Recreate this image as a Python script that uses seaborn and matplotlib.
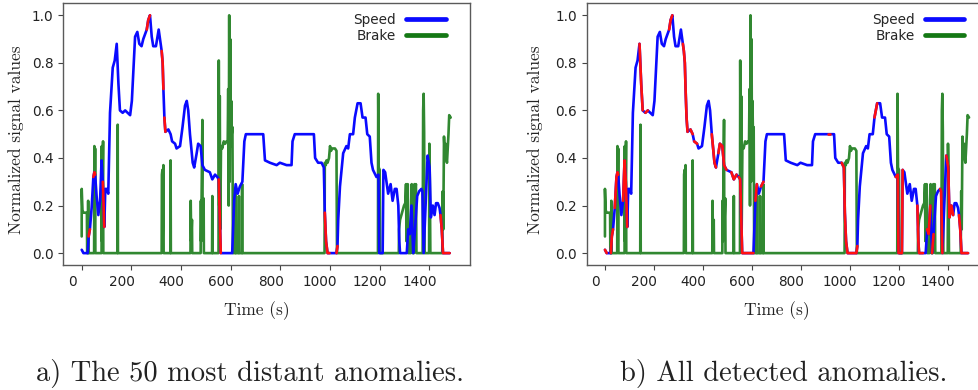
import numpy as np
import pandas as pd
import matplotlib
matplotlib.use("Agg")
import matplotlib.pyplot as plt
import matplotlib.transforms as mtransforms
from matplotlib.lines import Line2D
import seaborn as sns

# ---------------- data ----------------
speed_t = [0, 7, 20, 24, 28, 33, 40, 47, 51, 54, 60, 67, 74, 80, 85, 91, 95, 100, 107,
           114, 125, 133, 141, 148, 154, 165, 175, 185, 195, 202, 215, 224, 232, 241,
           248, 262, 268, 275, 282, 288, 299, 310, 318, 322, 326, 329, 333, 337, 349,
           358, 364, 376, 382, 396, 406, 416, 423, 429, 436, 447, 453, 463, 469, 479,
           486, 496, 516, 526, 537, 546, 552, 560, 606, 614, 620, 628, 637, 647, 655,
           661, 671, 731, 738, 758, 785, 798, 825, 845, 849, 858, 912, 918, 935, 940,
           952, 966, 975, 979, 984, 990, 998, 1026, 1030, 1033, 1040, 1053, 1066, 1073,
           1080, 1093, 1100, 1111, 1123, 1131, 1143, 1150, 1160, 1167, 1173, 1187, 1195,
           1198, 1212, 1215, 1222, 1234, 1244, 1252, 1261, 1268, 1275, 1279, 1282, 1298,
           1309, 1315, 1321, 1328, 1335, 1341, 1351, 1359, 1368, 1372, 1377, 1385, 1393,
           1401, 1406, 1414, 1421, 1427, 1434, 1441, 1445, 1450, 1455, 1482]
speed_v = [0.014, 0, 0, 0, 0.07, 0.10, 0.19, 0.32, 0.34, 0.33, 0.24, 0.16, 0.22, 0.39,
           0.30, 0.11, 0.27, 0.27, 0.25, 0.59, 0.78, 0.81, 0.88, 0.71, 0.60, 0.59, 0.60,
           0.59, 0.58, 0.64, 0.91, 0.93, 0.88, 0.87, 0.90, 0.94, 0.98, 1.0, 0.91, 0.87,
           0.87, 0.94, 0.88, 0.85, 0.80, 0.69, 0.57, 0.51, 0.52, 0.50, 0.47, 0.46, 0.44,
           0.45, 0.53, 0.62, 0.64, 0.60, 0.50, 0.38, 0.36, 0.42, 0.46, 0.45, 0.37, 0.35,
           0.34, 0.31, 0.33, 0.32, 0.31, 0, 0, 0.22, 0.29, 0.25, 0.28, 0.30, 0.47, 0.50,
           0.50, 0.50, 0.39, 0.38, 0.37, 0.38, 0.37, 0.37, 0.47, 0.50, 0.50, 0.50, 0.50,
           0.40, 0.38, 0.38, 0.36, 0.17, 0.05, 0, 0, 0, 0.03, 0.14, 0.28, 0.42, 0.45,
           0.44, 0.50, 0.50, 0.57, 0.63, 0.63, 0.57, 0.57, 0.50, 0.49, 0.38, 0.35, 0.32,
           0.33, 0, 0, 0.35, 0.34, 0.25, 0.29, 0.22, 0.27, 0.27, 0.20, 0.05, 0, 0, 0,
           0.10, 0.08, 0.20, 0, 0.08, 0.24, 0.26, 0.27, 0.26, 0, 0.20, 0.41, 0.36, 0.15,
           0.20, 0.16, 0.21, 0.21, 0.19, 0.16, 0.10, 0, 0]

brake_t = [0, 0, 3, 7, 20, 21, 22, 25, 26, 27, 50, 51, 52, 54, 55, 80, 81, 82, 86, 87,
           144, 145, 146, 322, 323, 325, 326, 329, 330, 357, 358, 359, 438, 439, 441,
           444, 445, 479, 480, 481, 486, 487, 491, 492, 525, 526, 527, 551, 552, 554,
           556, 558, 561, 566, 572, 578, 583, 588, 590, 592, 594, 596, 598, 600, 602,
           604, 607, 609, 619, 620, 621, 632, 633, 634, 645, 646, 647, 978, 979, 983,
           986, 990, 996, 1000, 1004, 1008, 1014, 1020, 1026, 1028, 1193, 1194, 1196,
           1200, 1202, 1277, 1278, 1282, 1290, 1298, 1303, 1306, 1308, 1313, 1315, 1325,
           1327, 1329, 1331, 1333, 1338, 1340, 1343, 1346, 1348, 1373, 1375, 1377, 1379,
           1381, 1399, 1400, 1402, 1404, 1452, 1454, 1456, 1459, 1462, 1465, 1468, 1471,
           1474, 1477, 1480, 1486]
brake_v = [0.07, 0.27, 0.18, 0.17, 0.17, 0.16, 0, 0, 0.22, 0, 0, 0.45, 0.05, 0.44, 0,
           0, 0.45, 0.05, 0.47, 0, 0, 0.54, 0, 0, 0.33, 0.35, 0.05, 0.37, 0, 0, 0.39, 0,
           0, 0.22, 0.05, 0.14, 0, 0, 0.22, 0.05, 0.56, 0.10, 0.23, 0, 0, 0.24, 0, 0,
           0.81, 0.20, 0.66, 0.10, 0.45, 0.44, 0.47, 0.46, 0.47, 0.47, 0.69, 0.20, 1.0,
           0.30, 0.90, 0.45, 0.64, 0.50, 0.53, 0, 0, 0.25, 0, 0, 0.24, 0, 0, 0.29, 0, 0,
           0.38, 0.37, 0.39, 0.38, 0.40, 0.45, 0.43, 0.44, 0.44, 0.44, 0.43, 0, 0, 0.67,
           0.36, 0.35, 0, 0, 0.10, 0.14, 0.17, 0.20, 0.21, 0.29, 0.05, 0.29, 0, 0, 0.22,
           0.29, 0.25, 0, 0, 0.29, 0.27, 0.29, 0, 0, 0.60, 0.67, 0.51, 0, 0, 0.46, 0.30,
           0, 0, 0.26, 0.10, 0.49, 0.42, 0.46, 0.40, 0.38, 0.44, 0.50, 0.58, 0.57]

# anomaly windows (start, end) in seconds
anom_a = [(28, 33), (47, 54), (85, 91), (262, 275), (322, 329), (333, 337),
          (552, 560), (979, 998), (1026, 1030), (1445, 1482)]
anom_b = [(0, 7), (24, 33), (40, 54), (74, 91), (141, 154), (165, 175), (262, 275),
          (318, 337), (349, 358), (364, 376), (436, 453), (463, 496), (516, 537),
          (546, 606), (614, 620), (637, 647), (912, 918), (966, 1030), (1100, 1111),
          (1187, 1215), (1275, 1298), (1315, 1328), (1335, 1341), (1368, 1377),
          (1393, 1421), (1445, 1482)]

captions = ["a) The 50 most distant anomalies.", "b) All detected anomalies."]
xticks = [0, 200, 400, 600, 800, 1000, 1200, 1400]
yticks = [0.0, 0.2, 0.4, 0.6, 0.8, 1.0]

speed = pd.DataFrame({"t": speed_t, "v": speed_v})
brake = pd.DataFrame({"t": brake_t, "v": brake_v})


def anomaly_frame(windows):
    parts = []
    for i, (s, e) in enumerate(windows):
        sub = speed[(speed.t >= s) & (speed.t <= e)].copy()
        sub["seg"] = i
        parts.append(sub)
    return pd.concat(parts, ignore_index=True)


sns.set_style("ticks")
plt.rcParams["font.family"] = ["DejaVu Sans"]

fig = plt.figure(figsize=(9.79, 3.9), dpi=100)
W, H = 979.0, 390.0
axA = fig.add_axes([63.2 / W, 125 / H, 407 / W, 261.6 / H])
axB = fig.add_axes([586.7 / W, 125 / H, 401.6 / W, 261.6 / H])

BLUE = "#0a0aff"
GREEN = "#147814"
RED = "#ff1010"

offset = mtransforms.ScaledTranslation(-7 / 72, 0, fig.dpi_scale_trans)

for ax, anoms, cap, xlab_x, ylab_x, cap_x in [
        (axA, anom_a, captions[0], 0.476, -0.096, 250),
        (axB, anom_b, captions[1], 0.473, -0.108, 784)]:
    sns.lineplot(data=brake, x="t", y="v", sort=False, estimator=None, ax=ax,
                 color=GREEN, lw=1.9, alpha=0.88, zorder=2)
    sns.lineplot(data=speed, x="t", y="v", sort=False, estimator=None, ax=ax,
                 color=BLUE, lw=1.9, zorder=3)
    sns.lineplot(data=anomaly_frame(anoms), x="t", y="v", units="seg",
                 sort=False, estimator=None, ax=ax, color=RED, lw=1.9,
                 zorder=4, legend=False)

    ax.set_xlim(-74.5, 1564.5)
    ax.set_ylim(-0.05, 1.05)
    ax.set_xticks(xticks)
    ax.set_yticks(yticks)
    ax.set_yticklabels([f"{y:.1f}" for y in yticks])
    ax.tick_params(axis="both", labelsize=9.8, colors="#444444",
                   labelcolor="#222222", length=3.5, width=0.8)
    for lab in ax.get_xticklabels():
        lab.set_transform(lab.get_transform() + offset)
    for sp in ax.spines.values():
        sp.set_visible(True)
        sp.set_color("#5a5a5a")
        sp.set_linewidth(1.0)

    ax.set_xlabel("Time (s)", family="cmr10", fontsize=12.5, color="#222222")
    ax.set_ylabel("Normalized signal values", family="cmr10", fontsize=12.5,
                  color="#222222")
    ax.xaxis.set_label_coords(xlab_x, -0.138)
    ax.yaxis.set_label_coords(ylab_x, 0.478)

    handles = [Line2D([], [], color=BLUE, lw=3.4), Line2D([], [], color=GREEN, lw=3.4)]
    ax.legend(handles, ["Speed", "Brake"], loc="upper right",
              bbox_to_anchor=(0.94, 0.963), frameon=False, markerfirst=False,
              fontsize=9.8, handlelength=2.9, handletextpad=0.75,
              labelspacing=0.15, borderpad=0, borderaxespad=0)

    fig.text(cap_x / W, 1 - 373 / H, cap, ha="center", va="center",
             family="cmr10", fontsize=20.5, color="#222222")

fig.savefig("out.png", dpi=100)
